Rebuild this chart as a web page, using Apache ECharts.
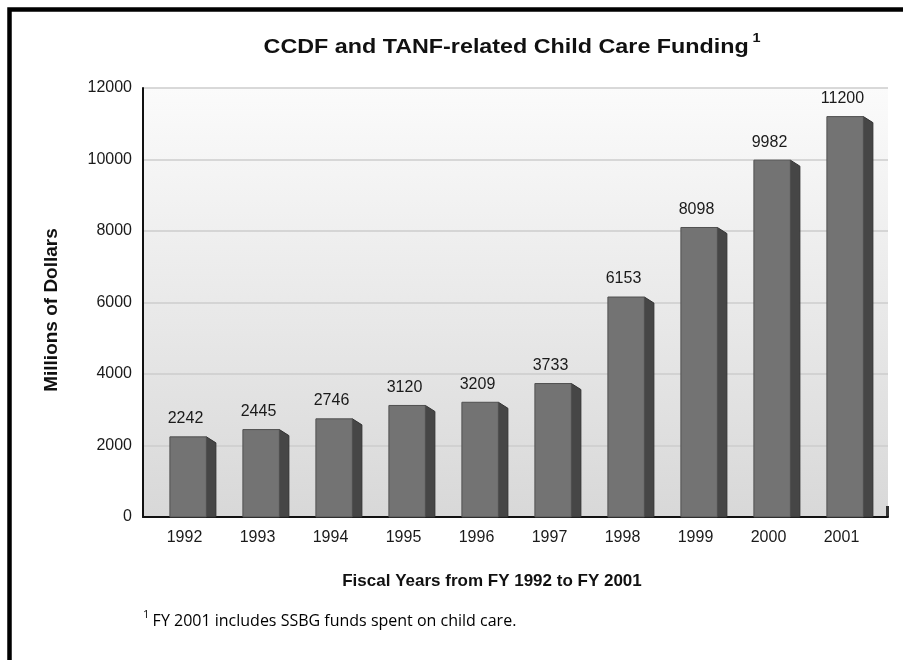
<!DOCTYPE html>
<html>
<head>
<meta charset="utf-8">
<script src="https://cdn.jsdelivr.net/npm/echarts@6/dist/echarts.min.js"></script>
<style>
  html, body { margin: 0; padding: 0; background: #ffffff; }
  #chart { width: 903px; height: 660px; }
</style>
</head>
<body>
<div id="chart"></div>
<script>
// Fiscal years and combined CCDF / TANF child care funding (millions of dollars)
const years = ['1992', '1993', '1994', '1995', '1996', '1997', '1998', '1999', '2000', '2001'];
const funding = [2242, 2445, 2746, 3120, 3209, 3733, 6153, 8098, 9982, 11200];
const yTicks = { min: 0, max: 12000, step: 2000 };

const FONT = '"Liberation Sans", Arial, sans-serif';
const chart = echarts.init(document.getElementById('chart'), null, { renderer: 'canvas' });

// Bar with a shaded right side face, giving a raised look
function renderBar(params, api) {
  const idx = api.value(0);
  const val = api.value(1);
  const top = api.coord([idx, val]);
  const base = api.coord([idx, 0]);
  const band = api.size([1, 0])[0];
  const cx = top[0];
  const fw = band * 0.5;
  const sw = band * 0.13;
  const drop = 6;
  const left = cx - band * 0.2;
  const right = left + fw;
  return {
    type: 'group',
    children: [
      {
        type: 'polygon',
        shape: { points: [[right, top[1]], [right + sw, top[1] + drop], [right + sw, base[1]], [right, base[1]]] },
        style: { fill: '#464646', stroke: '#333333', lineWidth: 1 }
      },
      {
        type: 'rect',
        shape: { x: left, y: top[1], width: fw, height: base[1] - top[1] },
        style: { fill: '#737373', stroke: '#505050', lineWidth: 1 }
      },
      {
        type: 'text',
        style: {
          text: String(val),
          x: cx + 1,
          y: top[1] - 10,
          align: 'center',
          verticalAlign: 'bottom',
          fill: '#1a1a1a',
          font: '16px ' + FONT
        }
      }
    ]
  };
}

const option = {
  animation: false,
  backgroundColor: '#ffffff',
  grid: [
    {
      left: 143, right: 15, top: 88, bottom: 143,
      show: true, borderWidth: 0,
      backgroundColor: new echarts.graphic.LinearGradient(0, 0, 0, 1, [
        { offset: 0, color: '#fbfbfb' },
        { offset: 1, color: '#d8d8d8' }
      ])
    },
    { left: 148, right: 25, top: 88, bottom: 143 }
  ],
  xAxis: [
    {
      gridIndex: 0, type: 'value', min: 0, max: 1,
      axisLine: { show: true, lineStyle: { color: '#111111', width: 2 } },
      axisTick: { show: false }, axisLabel: { show: false }, splitLine: { show: false }
    },
    {
      gridIndex: 1, type: 'category', data: years,
      axisLine: { show: false }, axisTick: { show: false },
      axisLabel: { margin: 13, color: '#1a1a1a', fontSize: 16, fontFamily: FONT }
    }
  ],
  yAxis: [
    {
      gridIndex: 0, type: 'value', min: yTicks.min, max: yTicks.max, interval: yTicks.step,
      axisLine: { show: true, lineStyle: { color: '#111111', width: 2 } },
      axisTick: { show: false },
      axisLabel: {
        margin: 11, color: '#1a1a1a', fontSize: 16, fontFamily: FONT,
        formatter: (v) => String(v)
      },
      splitLine: { show: true, lineStyle: { color: '#cccccc', width: 1.5 } }
    },
    { gridIndex: 1, type: 'value', min: yTicks.min, max: yTicks.max, show: false }
  ],
  series: [
    {
      type: 'custom',
      xAxisIndex: 1, yAxisIndex: 1,
      renderItem: renderBar,
      data: funding.map((v, i) => [i, v]),
      z: 5
    }
  ],
  graphic: [
    {
      type: 'rect', silent: true,
      shape: { x: 9.5, y: 9.5, width: 1200, height: 1200 },
      style: { fill: 'none', stroke: '#000000', lineWidth: 4.5 }
    },
    {
      type: 'text',
      x: 512, y: 47, scaleX: 1.11,
      style: {
        text: '{t|CCDF and TANF-related Child Care Funding} {s|1}',
        x: 0, y: 0, align: 'center', verticalAlign: 'middle',
        rich: {
          t: { font: 'bold 21px ' + FONT, fill: '#111111' },
          s: { font: 'bold 13px ' + FONT, fill: '#111111', padding: [0, 0, 18, 0] }
        }
      }
    },
    {
      type: 'text',
      x: 52, y: 310, rotation: Math.PI / 2,
      style: {
        text: 'Millions of Dollars',
        x: 0, y: 0, align: 'center', verticalAlign: 'middle',
        font: 'bold 19px ' + FONT, fill: '#111111'
      }
    },
    {
      type: 'text',
      style: {
        text: 'Fiscal Years from FY 1992 to FY 2001',
        x: 492, y: 581, align: 'center', verticalAlign: 'middle',
        font: 'bold 17px ' + FONT, fill: '#111111'
      }
    },
    {
      type: 'text',
      style: {
        text: '{s|1} {t|FY 2001 includes SSBG funds spent on child care.}',
        x: 143, y: 621, align: 'left', verticalAlign: 'middle',
        rich: {
          s: { font: '11px "Open Sans", sans-serif', fill: '#000000', padding: [0, 0, 12, 0] },
          t: { font: '16px "Open Sans", sans-serif', fill: '#000000' }
        }
      }
    },
    {
      type: 'rect', silent: true,
      shape: { x: 886, y: 506, width: 3, height: 11 },
      style: { fill: '#333333' }
    }
  ]
};

chart.setOption(option);
</script>
</body>
</html>
